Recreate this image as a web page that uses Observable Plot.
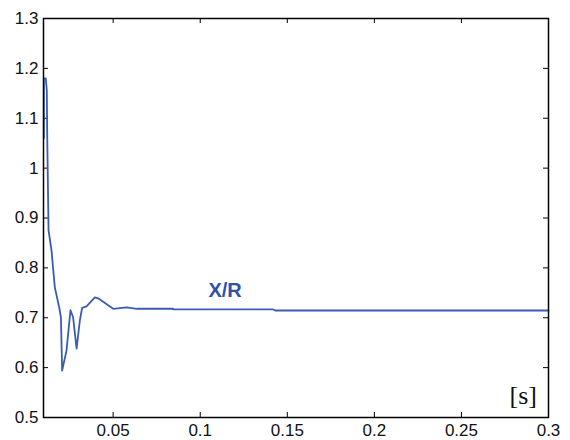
<!DOCTYPE html>
<html>
<head>
<meta charset="utf-8">
<script src="https://cdn.jsdelivr.net/npm/d3@7"></script>
<script src="https://cdn.jsdelivr.net/npm/@observablehq/plot@0.6"></script>
<style>
  html, body { margin: 0; padding: 0; background: #fff; }
  #chart { width: 570px; height: 440px; }
</style>
</head>
<body>
<div id="chart"></div>
<script>
const time = [0.0102, 0.0102, 0.0113, 0.0119, 0.0121, 0.0129, 0.0146, 0.0165, 0.019, 0.020, 0.0207, 0.0232, 0.0255, 0.027, 0.029, 0.0309, 0.0322, 0.0347, 0.0395, 0.0414, 0.05, 0.0578, 0.0635, 0.0845, 0.0846, 0.142, 0.143, 0.3];
const xr   = [1.06, 1.18, 1.18, 1.156, 1.075, 0.875, 0.835, 0.761, 0.721, 0.701, 0.594, 0.634, 0.715, 0.701, 0.638, 0.695, 0.72, 0.723, 0.741, 0.739, 0.718, 0.721, 0.718, 0.718, 0.7166, 0.7166, 0.7145, 0.7145];
const xTicks = [0.05, 0.1, 0.15, 0.2, 0.25, 0.3];
const yTicks = [0.5, 0.6, 0.7, 0.8, 0.9, 1.0, 1.1, 1.2, 1.3];
const seriesLabel = "X/R";
const unitLabel = "[s]";

const data = time.map((t, i) => ({t, v: xr[i]}));
const fmt = d => String(+d.toFixed(2));
const W = 570, H = 440, mt = 18, mb = 23, ml = 43, mr = 22;
const ph = H - mt - mb, pw = W - ml - mr;
const tl = 5;

const chart = Plot.plot({
  width: W, height: H,
  marginTop: mt, marginBottom: mb, marginLeft: ml, marginRight: mr,
  style: {fontFamily: "Arial, 'Liberation Sans', sans-serif", fontSize: "17px", color: "#111", background: "#fff"},
  x: {domain: [0.01, 0.3]},
  y: {domain: [0.5, 1.3]},
  marks: [
    Plot.axisX(xTicks, {tickSize: 0, tickPadding: 6, tickFormat: fmt, fontSize: 17, label: null}),
    Plot.axisY(yTicks, {tickSize: 0, tickPadding: 5, tickFormat: fmt, fontSize: 17, label: null}),
    Plot.tickX(xTicks, {x: d => d, insetTop: ph - tl, stroke: "#000", strokeWidth: 1}),
    Plot.tickX(xTicks, {x: d => d, insetBottom: ph - tl, stroke: "#000", strokeWidth: 1}),
    Plot.tickY(yTicks, {y: d => d, insetRight: pw - tl, stroke: "#000", strokeWidth: 1}),
    Plot.tickY(yTicks, {y: d => d, insetLeft: pw - tl, stroke: "#000", strokeWidth: 1}),
    Plot.line(data, {x: "t", y: "v", stroke: "#3a5cb4", strokeWidth: 1.8, curve: "linear"}),
    Plot.text([seriesLabel], {x: 0.1143, y: 0.755, text: d => d, fill: "#2f52a8", fontWeight: "bold", fontSize: 20, textAnchor: "middle"}),
    Plot.text([unitLabel], {x: 0.2855, y: 0.544, text: d => d, fill: "#111", fontFamily: "'Liberation Serif', 'DejaVu Serif', serif", fontSize: 26, textAnchor: "middle"}),
    Plot.frame({stroke: "#000", strokeWidth: 1.5})
  ]
});
document.getElementById("chart").appendChild(chart);
</script>
</body>
</html>
